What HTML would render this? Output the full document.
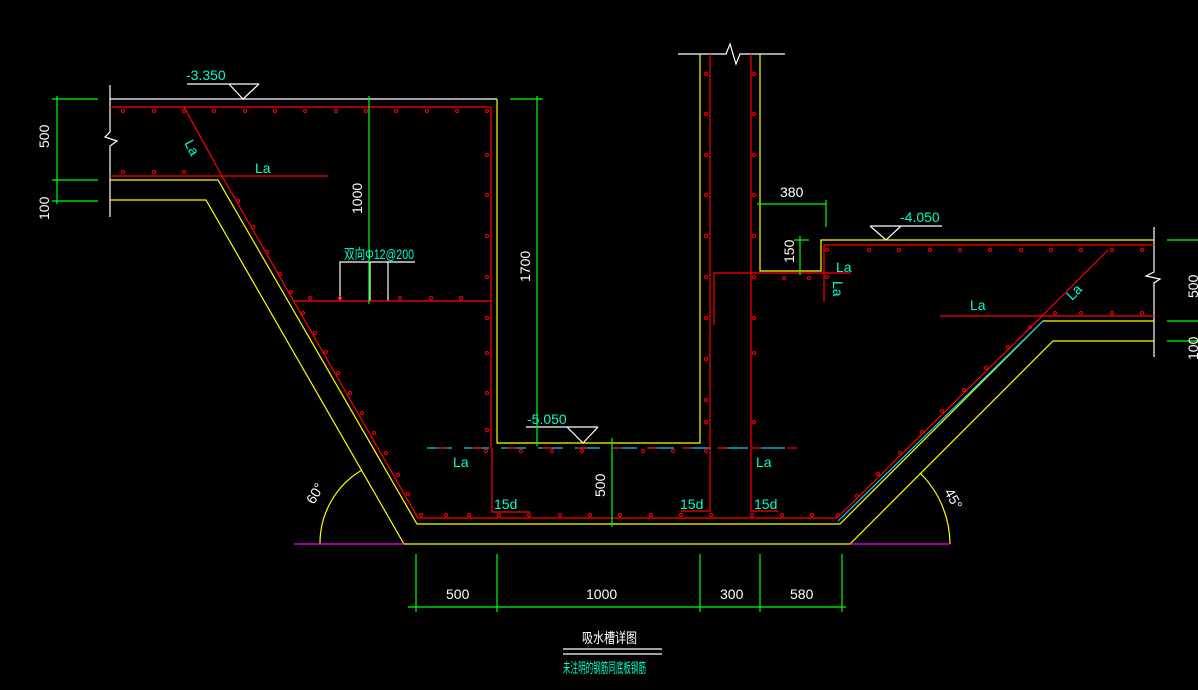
<!DOCTYPE html>
<html><head><meta charset="utf-8"><style>
html,body{margin:0;padding:0;background:#000;width:1198px;height:690px;overflow:hidden}
svg{display:block}
text{font-family:"Liberation Sans Narrow","Liberation Sans","Noto Sans CJK SC",sans-serif;font-size:14px}
</style></head><body>
<svg width="1198" height="690" viewBox="0 0 1198 690" xmlns="http://www.w3.org/2000/svg">
<g fill="none" stroke-width="1.2">
<g stroke="#fff">
<polyline points="110,85 110,132 105,137 117,141 110,146 110,217"/>
<polyline points="1154,227 1154,272 1146,276 1160,279 1154,283 1154,357"/>
<polyline points="678,54 726,54 730,44 736,64 740,54 785,54"/>
<line x1="187" y1="84" x2="259" y2="84"/><polyline points="229,84 243,99 259,84"/>
<line x1="526" y1="427" x2="598" y2="427"/><polyline points="567,427 583,443 598,427"/>
<line x1="870" y1="226" x2="942" y2="226"/><polyline points="870,226 886,240 901,226"/>
<polyline points="340,301 340,262 415,262"/><line x1="370" y1="262" x2="370" y2="301"/><line x1="388" y1="262" x2="388" y2="301"/>
<line x1="563" y1="649" x2="662" y2="649"/><line x1="563" y1="654" x2="662" y2="654"/>
<line x1="110" y1="99" x2="497" y2="99"/>
</g>
<g stroke="#ff0">
<polyline points="497,99 497,443 700,443 700,54"/>
<polyline points="760,54 760,271 821,271 821,240 1154,240"/>
<polyline points="110,180 218,180 417,524 840,524 1043,321 1154,321"/>
<polyline points="110,200 206,200 404,544 850,544 1053,341 1154,341"/>
<path d="M320,544 A85,85 0 0 1 362,470"/>
<path d="M950,544 A100,100 0 0 0 920,473"/>
</g>
<line x1="294" y1="544" x2="404" y2="544" stroke="#f0f"/>
<line x1="850" y1="544" x2="950" y2="544" stroke="#f0f"/>
<line x1="427" y1="448" x2="797" y2="448" stroke="#0cf" stroke-dasharray="25,12"/>
<line x1="838" y1="521" x2="1043" y2="321" stroke="#0cf"/>
<g stroke="#f00">
<polyline points="110,107 491,107 491,448"/>
<line x1="110" y1="176" x2="328" y2="176"/>
<polyline points="184,107 222,176 418,518 837,518 1040,318"/>
<line x1="294" y1="301" x2="491" y2="301"/>
<line x1="437" y1="448" x2="797" y2="448" stroke-dasharray="10,25"/>
<polyline points="492,448 492,512 530,512"/>
<polyline points="681,511 710,511 710,54"/>
<polyline points="751,54 751,511 778,511"/>
<polyline points="714,325 714,273 851,273"/>
<polyline points="824,302 824,245 1154,245"/>
<line x1="940" y1="316" x2="1154" y2="316"/>
<line x1="1040" y1="318" x2="1108" y2="250"/>
</g>
<g stroke="#0f0">
<line x1="57" y1="96" x2="57" y2="204"/>
<line x1="52" y1="99" x2="98" y2="99"/><line x1="52" y1="180" x2="98" y2="180"/><line x1="52" y1="201" x2="98" y2="201"/>
<line x1="369" y1="96" x2="369" y2="304"/>
<line x1="537" y1="96" x2="537" y2="446"/><line x1="510" y1="99" x2="543" y2="99"/>
<line x1="757" y1="204" x2="826" y2="204"/><line x1="826" y1="200" x2="826" y2="227"/>
<line x1="800" y1="236" x2="800" y2="275"/><line x1="794" y1="240" x2="809" y2="240"/>
<line x1="1167" y1="240" x2="1198" y2="240"/><line x1="1167" y1="321" x2="1198" y2="321"/><line x1="1167" y1="341" x2="1198" y2="341"/>
<line x1="612" y1="438" x2="612" y2="527"/>
<line x1="408" y1="607" x2="846" y2="607"/>
<line x1="416" y1="554" x2="416" y2="612"/><line x1="497" y1="554" x2="497" y2="612"/><line x1="700" y1="554" x2="700" y2="612"/><line x1="760" y1="554" x2="760" y2="612"/><line x1="842" y1="554" x2="842" y2="612"/>
</g>
</g>
<g fill="none" stroke="#f00" stroke-width="1">
<circle cx="123" cy="111" r="1.5"/><circle cx="154" cy="111" r="1.5"/><circle cx="184" cy="111" r="1.5"/><circle cx="214" cy="111" r="1.5"/><circle cx="245" cy="111" r="1.5"/><circle cx="275" cy="111" r="1.5"/><circle cx="305" cy="111" r="1.5"/><circle cx="336" cy="111" r="1.5"/><circle cx="366" cy="111" r="1.5"/><circle cx="396" cy="111" r="1.5"/><circle cx="427" cy="111" r="1.5"/><circle cx="457" cy="111" r="1.5"/><circle cx="487" cy="111" r="1.5"/>
<circle cx="123" cy="172" r="1.5"/><circle cx="154" cy="172" r="1.5"/><circle cx="184" cy="172" r="1.5"/>
<circle cx="487" cy="155" r="1.5"/><circle cx="487" cy="195" r="1.5"/><circle cx="487" cy="236" r="1.5"/><circle cx="487" cy="277" r="1.5"/><circle cx="487" cy="318" r="1.5"/><circle cx="487" cy="353" r="1.5"/><circle cx="487" cy="393" r="1.5"/><circle cx="487" cy="430" r="1.5"/>
<circle cx="310" cy="298" r="1.5"/><circle cx="340" cy="298" r="1.5"/><circle cx="400" cy="298" r="1.5"/><circle cx="431" cy="298" r="1.5"/><circle cx="461" cy="298" r="1.5"/>
<circle cx="238" cy="201" r="1.5"/><circle cx="253" cy="227" r="1.5"/><circle cx="267" cy="252" r="1.5"/><circle cx="280" cy="274" r="1.5"/><circle cx="291" cy="292" r="1.5"/><circle cx="303" cy="313" r="1.5"/><circle cx="315" cy="333" r="1.5"/><circle cx="326" cy="352" r="1.5"/><circle cx="338" cy="373" r="1.5"/><circle cx="350" cy="393" r="1.5"/><circle cx="362" cy="413" r="1.5"/><circle cx="374" cy="433" r="1.5"/><circle cx="386" cy="453" r="1.5"/><circle cx="398" cy="475" r="1.5"/><circle cx="408" cy="494" r="1.5"/>
<circle cx="421" cy="515" r="1.5"/><circle cx="446" cy="515" r="1.5"/><circle cx="469" cy="515" r="1.5"/><circle cx="499" cy="515" r="1.5"/><circle cx="529" cy="515" r="1.5"/><circle cx="560" cy="515" r="1.5"/><circle cx="590" cy="515" r="1.5"/><circle cx="620" cy="515" r="1.5"/><circle cx="651" cy="515" r="1.5"/><circle cx="681" cy="515" r="1.5"/><circle cx="711" cy="515" r="1.5"/><circle cx="752" cy="515" r="1.5"/><circle cx="782" cy="515" r="1.5"/><circle cx="812" cy="515" r="1.5"/><circle cx="838" cy="515" r="1.5"/>
<circle cx="486" cy="451" r="1.5"/><circle cx="521" cy="451" r="1.5"/><circle cx="552" cy="451" r="1.5"/><circle cx="582" cy="451" r="1.5"/><circle cx="643" cy="451" r="1.5"/><circle cx="673" cy="451" r="1.5"/><circle cx="706" cy="451" r="1.5"/>
<circle cx="706" cy="74" r="1.5"/><circle cx="706" cy="114" r="1.5"/><circle cx="706" cy="155" r="1.5"/><circle cx="706" cy="195" r="1.5"/><circle cx="706" cy="236" r="1.5"/><circle cx="706" cy="277" r="1.5"/><circle cx="706" cy="318" r="1.5"/><circle cx="706" cy="359" r="1.5"/><circle cx="706" cy="400" r="1.5"/><circle cx="706" cy="422" r="1.5"/>
<circle cx="754" cy="74" r="1.5"/><circle cx="754" cy="114" r="1.5"/><circle cx="754" cy="155" r="1.5"/><circle cx="754" cy="195" r="1.5"/><circle cx="754" cy="236" r="1.5"/><circle cx="754" cy="277" r="1.5"/><circle cx="754" cy="318" r="1.5"/><circle cx="754" cy="353" r="1.5"/><circle cx="754" cy="422" r="1.5"/>
<circle cx="784" cy="278" r="1.5"/><circle cx="809" cy="278" r="1.5"/><circle cx="827" cy="277" r="1.5"/>
<circle cx="827" cy="250" r="1.5"/><circle cx="869" cy="250" r="1.5"/><circle cx="899" cy="250" r="1.5"/><circle cx="930" cy="250" r="1.5"/><circle cx="960" cy="250" r="1.5"/><circle cx="990" cy="250" r="1.5"/><circle cx="1021" cy="250" r="1.5"/><circle cx="1051" cy="250" r="1.5"/><circle cx="1081" cy="250" r="1.5"/><circle cx="1112" cy="250" r="1.5"/><circle cx="1142" cy="250" r="1.5"/>
<circle cx="1055" cy="313" r="1.5"/><circle cx="1081" cy="313" r="1.5"/><circle cx="1112" cy="313" r="1.5"/><circle cx="1142" cy="313" r="1.5"/>
<circle cx="1030" cy="327" r="1.5"/><circle cx="1008" cy="347" r="1.5"/><circle cx="986" cy="368" r="1.5"/><circle cx="964" cy="390" r="1.5"/><circle cx="942" cy="411" r="1.5"/><circle cx="922" cy="432" r="1.5"/><circle cx="900" cy="453" r="1.5"/><circle cx="878" cy="474" r="1.5"/><circle cx="857" cy="496" r="1.5"/>
</g>
<g fill="#0fc">
<text x="186" y="80">-3.350</text>
<text x="900" y="222">-4.050</text>
<text x="527" y="424">-5.050</text>
<text x="255" y="173">La</text>
<text x="836" y="272">La</text>
<text x="970" y="310">La</text>
<text x="453" y="467">La</text>
<text x="756" y="467">La</text>
<text x="494" y="509" font-size="13">15d</text>
<text x="680" y="509" font-size="13">15d</text>
<text x="754" y="509" font-size="13">15d</text>
<text x="344" y="259" font-size="12" textLength="70" lengthAdjust="spacingAndGlyphs">双向Φ12@200</text>
<text transform="translate(184,143) rotate(62)" font-size="13">La</text>
<text transform="translate(833,281) rotate(90)" font-size="13">La</text>
<text transform="translate(1072,301) rotate(-45)" font-size="13">La</text>
<text x="563" y="673" font-size="11" textLength="83" lengthAdjust="spacingAndGlyphs">未注明的钢筋同底板钢筋</text>
</g>
<g fill="#fff">
<text transform="translate(49,148) rotate(-90)" font-size="12">500</text>
<text transform="translate(49,220) rotate(-90)" font-size="12">100</text>
<text transform="translate(362,214) rotate(-90)" font-size="12">1000</text>
<text transform="translate(530,282) rotate(-90)" font-size="12">1700</text>
<text transform="translate(605,497) rotate(-90)" font-size="12">500</text>
<text transform="translate(794,263) rotate(-90)" font-size="12">150</text>
<text transform="translate(1198,298) rotate(-90)" font-size="12">500</text>
<text transform="translate(1198,360) rotate(-90)" font-size="12">100</text>
<text x="780" y="197" font-size="13">380</text>
<text x="446" y="599" font-size="13">500</text>
<text x="586" y="599" font-size="13">1000</text>
<text x="720" y="599" font-size="13">300</text>
<text x="790" y="599" font-size="13">580</text>
<text x="582" y="643" font-size="15" textLength="55" lengthAdjust="spacingAndGlyphs">吸水槽详图</text>
<text transform="translate(314,505) rotate(-60)" font-size="11">60°</text>
<text transform="translate(944,492) rotate(60)" font-size="11">45°</text>
</g>
</svg>
</body></html>
